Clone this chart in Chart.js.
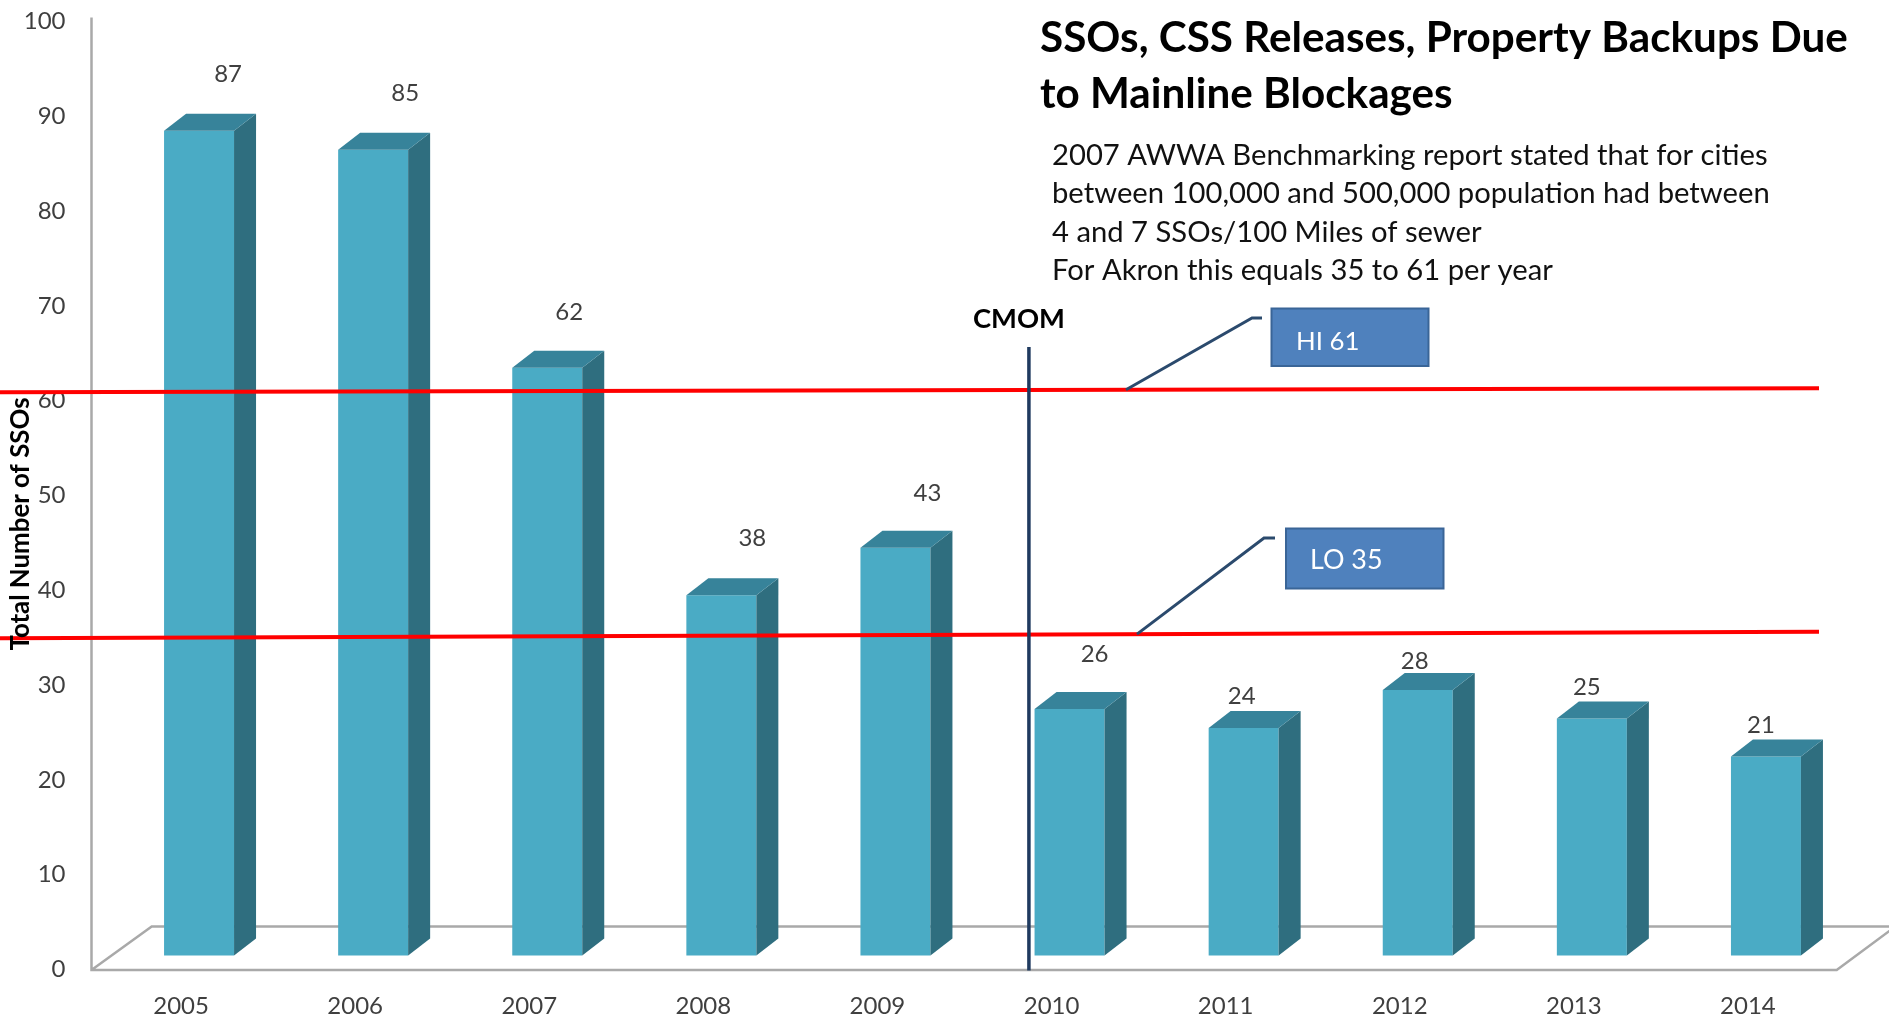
<!DOCTYPE html>
<html><head><meta charset="utf-8">
<script src="https://cdn.jsdelivr.net/npm/chart.js@4.4.1/dist/chart.umd.min.js"></script>
<style>html,body{margin:0;padding:0;background:#fff;overflow:hidden}canvas{display:block}</style>
</head><body>
<canvas id="c" width="1889" height="1020"></canvas>
<script>
// ---------------- data ----------------
const categories = ['2005','2006','2007','2008','2009','2010','2011','2012','2013','2014'];
const ssoCounts  = [87, 85, 62, 38, 43, 26, 24, 28, 25, 21];
const benchmarkHigh = 61;
const benchmarkLow  = 35;
const cmomCategory = '2010';
const yMin = 0, yMax = 100, yStep = 10;
const titleLines = ['SSOs, CSS Releases, Property Backups Due', 'to Mainline Blockages'];
const noteLines = [
  '2007 AWWA Benchmarking report stated that for cities',
  'between 100,000 and 500,000 population had between',
  '4 and 7 SSOs/100 Miles of sewer',
  'For Akron this equals 35 to 61 per year'
];
const yAxisTitle = 'Total Number of SSOs';
const cmomLabel = 'CMOM';
const highLabel = 'HI ' + benchmarkHigh;
const lowLabel  = 'LO ' + benchmarkLow;

// ---------------- styling / placement ----------------
const FONT = 'Lato, "Open Sans", sans-serif';
const TEXT_GRAY = '#3f3f3f';
const FRONT = '#4aabc5', SIDE = '#2f6e7f', TOP = '#37839a';
const SHIFT_X = 18, SHIFT_Y = -14;     // 3D placement of bar front faces
const DEPTH_X = 22, DEPTH_Y = -17;     // 3D depth of bars
const labelNudgeX = [29, 32, 22, 31, 32, 25, -2, -3, -5, -5];
const labelNudgeY = [-56, -56, -55, -57, -55, -55, -32, -29, -31, -31];

function fitFont(ctx, text, weight, target) {
  ctx.font = weight + ' 100px ' + FONT;
  const w = ctx.measureText(text).width;
  return weight + ' ' + (100 * target / w).toFixed(2) + 'px ' + FONT;
}

const decor = {
  id: 'decor',
  beforeDatasetsDraw(chart) {
    const ctx = chart.ctx;
    const y = chart.scales.y;
    const y0 = y.getPixelForValue(0);
    // walls / floor
    ctx.save();
    ctx.strokeStyle = '#a9a9a9';
    ctx.lineWidth = 2.5;
    ctx.beginPath();
    ctx.moveTo(91.5, y.getPixelForValue(100) - 4);
    ctx.lineTo(91.5, y0 + 0.5);
    ctx.lineTo(1836.7, y0 + 0.5);
    ctx.lineTo(1836.7 + 58.7, y0 - 43);
    ctx.moveTo(91.5, y0 + 0.5);
    ctx.lineTo(151.7, y0 - 43);
    ctx.lineTo(1895, y0 - 43);
    ctx.stroke();
    ctx.restore();
    ctx.save();
    ctx.translate(SHIFT_X, SHIFT_Y);
  },
  afterDatasetsDraw(chart) {
    const ctx = chart.ctx;
    const meta = chart.getDatasetMeta(0);
    meta.data.forEach(bar => {
      const p = bar.getProps(['x', 'y', 'base', 'width'], true);
      const l = p.x - p.width / 2, r = p.x + p.width / 2;
      ctx.fillStyle = SIDE;
      ctx.beginPath();
      ctx.moveTo(r, p.y); ctx.lineTo(r + DEPTH_X, p.y + DEPTH_Y);
      ctx.lineTo(r + DEPTH_X, p.base + DEPTH_Y); ctx.lineTo(r, p.base);
      ctx.closePath(); ctx.fill();
      ctx.fillStyle = TOP;
      ctx.beginPath();
      ctx.moveTo(l, p.y); ctx.lineTo(l + DEPTH_X, p.y + DEPTH_Y);
      ctx.lineTo(r + DEPTH_X, p.y + DEPTH_Y); ctx.lineTo(r, p.y);
      ctx.closePath(); ctx.fill();
    });
    ctx.restore();
    // value labels
    ctx.save();
    ctx.fillStyle = TEXT_GRAY;
    ctx.font = '24px ' + FONT;
    ctx.textAlign = 'center';
    ctx.textBaseline = 'middle';
    meta.data.forEach((bar, i) => {
      const p = bar.getProps(['x', 'y'], true);
      ctx.fillText(String(ssoCounts[i]), p.x + SHIFT_X + labelNudgeX[i], p.y + SHIFT_Y + labelNudgeY[i]);
    });
    ctx.restore();
  },
  afterDraw(chart) {
    const ctx = chart.ctx;
    const ys = chart.scales.y, xs = chart.scales.x;
    ctx.save();
    // benchmark lines (slightly tilted as in the original)
    const redLine = (v, tiltL, tiltR) => {
      const yl = ys.getPixelForValue(v) + tiltL, yr = ys.getPixelForValue(v) + tiltR;
      ctx.strokeStyle = '#ff0000'; ctx.lineWidth = 4;
      ctx.beginPath(); ctx.moveTo(0, yl); ctx.lineTo(1819, yr); ctx.stroke();
      return x => yl + (yr - yl) * x / 1819;
    };
    const hiY = redLine(benchmarkHigh, 1, -3);
    const loY = redLine(benchmarkLow, 0.5, -6);

    // CMOM line
    const idx = categories.indexOf(cmomCategory);
    const cx = xs.getPixelForValue(idx) - 0.13 * (xs.width / categories.length);
    ctx.strokeStyle = '#1f3a5f'; ctx.lineWidth = 3.5;
    ctx.beginPath(); ctx.moveTo(cx, 347); ctx.lineTo(cx, ys.getPixelForValue(0) + 1); ctx.stroke();
    ctx.fillStyle = '#000';
    ctx.font = fitFont(ctx, cmomLabel, 'bold', 92);
    ctx.textAlign = 'center'; ctx.textBaseline = 'alphabetic';
    ctx.fillText(cmomLabel, cx - 10, 328);

    // callouts
    const callout = (x0, yFn, x1, y1, x2, box, text, textX, textBase, textW) => {
      ctx.strokeStyle = '#2b4a6d'; ctx.lineWidth = 3;
      ctx.beginPath(); ctx.moveTo(x0, yFn(x0)); ctx.lineTo(x1, y1); ctx.lineTo(x2, y1); ctx.stroke();
      ctx.fillStyle = '#4f81bd';
      ctx.fillRect(box[0], box[1], box[2] - box[0], box[3] - box[1]);
      ctx.strokeStyle = '#3a6597'; ctx.lineWidth = 2;
      ctx.strokeRect(box[0], box[1], box[2] - box[0], box[3] - box[1]);
      ctx.fillStyle = '#ffffff';
      ctx.font = fitFont(ctx, text, 'normal', textW);
      ctx.textAlign = 'left'; ctx.textBaseline = 'alphabetic';
      ctx.fillText(text, textX, textBase);
    };
    callout(1126, hiY, 1252, 318, 1262, [1271.5, 308.5, 1428.5, 366], highLabel, 1296, 350, 63.5);
    callout(1137, loY, 1264, 538, 1275, [1286, 528.5, 1443.5, 588.5], lowLabel, 1310, 568.5, 72.5);

    // titles
    ctx.fillStyle = '#000';
    ctx.textAlign = 'left'; ctx.textBaseline = 'alphabetic';
    const tFont = fitFont(ctx, titleLines[0], 'bold', 808);
    ctx.font = tFont;
    ctx.fillText(titleLines[0], 1040, 51.5);
    ctx.fillText(titleLines[1], 1040, 108);
    ctx.fillStyle = '#111';
    ctx.font = fitFont(ctx, noteLines[0], 'normal', 716);
    noteLines.forEach((t, i) => ctx.fillText(t, 1052, 165 + i * 38.4));

    // y axis title
    ctx.save();
    ctx.translate(20.5, 524);
    ctx.rotate(-Math.PI / 2);
    ctx.fillStyle = '#000';
    ctx.font = fitFont(ctx, yAxisTitle, 'bold', 253);
    ctx.textAlign = 'center'; ctx.textBaseline = 'middle';
    ctx.fillText(yAxisTitle, 0, 0);
    ctx.restore();
    ctx.restore();
  }
};

function build() {
  new Chart(document.getElementById('c'), {
    type: 'bar',
    data: {
      labels: categories,
      datasets: [{
        data: ssoCounts,
        backgroundColor: FRONT,
        borderWidth: 0,
        barPercentage: 0.402,
        categoryPercentage: 1.0,
        clip: false
      }]
    },
    options: {
      responsive: false,
      devicePixelRatio: 1,
      animation: false,
      events: [],
      layout: { padding: { top: 21.5, right: 54, bottom: 0, left: 0 } },
      plugins: { legend: { display: false }, tooltip: { enabled: false }, title: { display: false } },
      scales: {
        x: {
          grid: { display: false, drawTicks: true, tickLength: 22 },
          border: { display: false },
          ticks: { font: { family: FONT, size: 24 }, color: TEXT_GRAY, padding: 0, maxRotation: 0, autoSkip: false },
          afterFit(s) { s.height = 50.5; }
        },
        y: {
          min: yMin, max: yMax,
          grid: { display: false, drawTicks: true, tickLength: 28.5 },
          border: { display: false },
          ticks: { stepSize: yStep, font: { family: FONT, size: 24 }, color: TEXT_GRAY, padding: 0 },
          afterFit(s) { s.width = 94; }
        }
      }
    },
    plugins: [decor]
  });
}
Promise.all([
  document.fonts.load('24px Lato'),
  document.fonts.load('bold 24px Lato')
]).then(build, build);
</script>
</body></html>
